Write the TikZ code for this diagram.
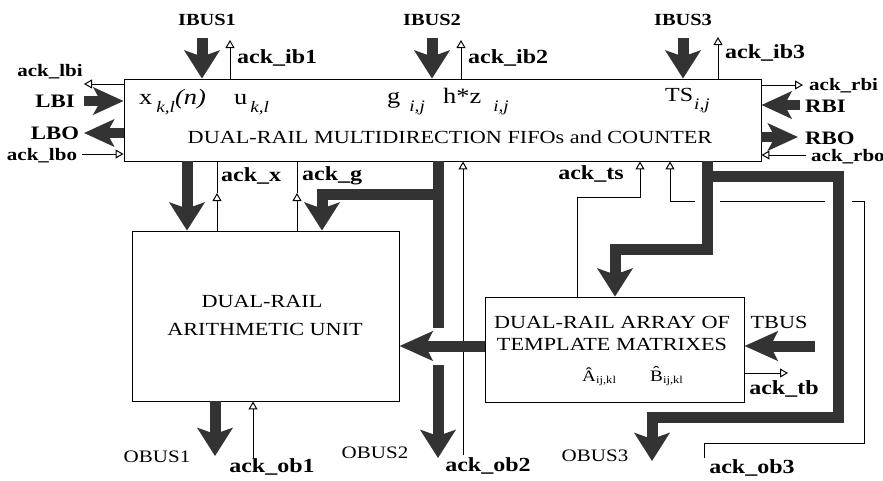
\documentclass[tikz,border=0pt]{standalone}
\usepackage{fontspec}
\setmainfont{Liberation Serif}[FakeStretch=1.2]
\usetikzlibrary{arrows.meta}
\definecolor{busc}{gray}{0.2}
\tikzset{
 box/.style={draw, line width=0.9pt, inner sep=0pt, rectangle},
 busline/.style={line width=11pt, draw=busc},
 bus/.style={busline, -{Stealth[width=35pt,length=28pt,inset=6pt]}},
 sbus/.style={line width=10pt, draw=busc, -{Stealth[width=27pt,length=30pt,inset=7pt]}},
 hbus/.style={line width=11pt, draw=busc, -{Stealth[width=29pt,length=33pt,inset=7pt]}},
 thinl/.style={line width=1pt},
 ack/.style={thinl, -{Triangle[open,width=9pt,length=8pt]}},
 busB/.style={font=\fontsize{17}{17}\selectfont\bfseries, inner sep=0pt},
 busR/.style={font=\fontsize{17.5}{17.5}\selectfont, inner sep=0pt},
 ackB/.style={font=\fontsize{20}{20}\selectfont\bfseries, inner sep=0pt},
 ackS/.style={font=\fontsize{17.5}{17.5}\selectfont\bfseries, inner sep=0pt},
 sideB/.style={font=\fontsize{19}{19}\selectfont\bfseries, inner sep=0pt},
 body/.style={font=\fontsize{18.5}{18.5}\selectfont, inner sep=0pt, anchor=base},
 var/.style={font=\fontsize{22}{22}\selectfont, inner sep=0pt, anchor=base west},
}
\newcommand{\sbx}[1]{\raisebox{-8pt}{\fontsize{16}{16}\selectfont\itshape #1}}
\begin{document}
\begin{tikzpicture}[x=1pt,y=-1pt]
\fill[white] (0,0) rectangle (883,480);
\useasboundingbox (0,0) rectangle (883,480);

% boxes
\node[box, minimum width=637pt, minimum height=82pt] (fifo) at (442.5,120) {};
\node[box, minimum width=267pt, minimum height=170pt] (arith) at (265.5,316) {};
\node[box, minimum width=259pt, minimum height=105pt] (templ) at (614.5,349.5) {};

% texts in boxes
\node[var] (vx) at (139,104) {x\hspace{4pt}\sbx{k,l}\itshape(n)};
\node[var] (vu) at (234,104) {u\hspace{3pt}\sbx{k,l}};
\node[var] (vg) at (387,103) {g\hspace{9pt}\sbx{i,j}};
\node[var] (vh) at (443,103) {h*z\hspace{12pt}\sbx{i,j}};
\node[font=\fontsize{20}{20}\selectfont, inner sep=0pt, anchor=base west] (vts) at (665,101) {TS\hspace{1pt}\sbx{i,j}};
\node[body] (tfifo) at (450,143) {DUAL-RAIL MULTIDIRECTION FIFOs and COUNTER};
\node[body] (ta1) at (262,307) {DUAL-RAIL};
\node[body] (ta2) at (265,335) {ARITHMETIC UNIT};
\node[body] (tt1) at (612,328) {DUAL-RAIL ARRAY OF};
\node[body] (tt2) at (612,350) {TEMPLATE MATRIXES};
\node[font=\fontsize{16}{16}\selectfont, inner sep=0pt, anchor=base west] (tA) at (582,381) {\^A\raisebox{-2pt}{\fontsize{10.5}{10.5}\selectfont ij,kl}};
\node[font=\fontsize{16}{16}\selectfont, inner sep=0pt, anchor=base west] (tB) at (650,381) {\^B\raisebox{-2pt}{\fontsize{10.5}{10.5}\selectfont ij,kl}};

% top inputs
\coordinate (ib1) at (202,38);
\coordinate (ib2) at (432,38);
\coordinate (ib3) at (683,38);
\draw[bus] (ib1) -- (ib1 |- fifo.north);
\draw[bus] (ib2) -- (ib2 |- fifo.north);
\draw[bus] (ib3) -- (ib3 |- fifo.north);
\node[busB] (lib1) at (207,20) {IBUS1};
\node[busB] (lib2) at (432,20) {IBUS2};
\node[busB] (lib3) at (683,20) {IBUS3};
\coordinate (aib1) at (230,40);
\coordinate (aib2) at (461,40);
\coordinate (aib3) at (718,37);
\draw[ack] (aib1 |- fifo.north) -- (aib1);
\draw[ack] (aib2 |- fifo.north) -- (aib2);
\draw[ack] (aib3 |- fifo.north) -- (aib3);
\node[ackB, anchor=west] (laib1) at (237,58) {ack\_ib1};
\node[ackB, anchor=west] (laib2) at (468,58) {ack\_ib2};
\node[ackB, anchor=west] (laib3) at (725,53) {ack\_ib3};

% left side
\coordinate (albi) at (84,84);
\coordinate (lbi) at (84,101);
\coordinate (lbo) at (84,133);
\coordinate (albo) at (82,154);
\draw[ack] (albi -| fifo.west) -- (albi);
\draw[sbus] (lbi) -- (lbi -| fifo.west);
\draw[sbus] (lbo -| fifo.west) -- (lbo);
\draw[ack] (albo) -- (albo -| fifo.west);
\node[ackS] (lalbi) at (50,72) {ack\_lbi};
\node[sideB] (llbi) at (55,101) {LBI};
\node[sideB] (llbo) at (55,133) {LBO};
\node[ackS] (lalbo) at (42,156) {ack\_lbo};

% right side
\coordinate (arbi) at (803,85);
\coordinate (rbi) at (800,105);
\coordinate (rbo) at (798,137);
\coordinate (arbo) at (806,155);
\draw[ack] (arbi -| fifo.east) -- (arbi);
\draw[sbus] (rbi) -- (rbi -| fifo.east);
\draw[sbus] (rbo -| fifo.east) -- (rbo);
\draw[ack] (arbo) -- (arbo -| fifo.east);
\node[ackS, anchor=west] (larbi) at (809,86) {ack\_rbi};
\node[sideB, anchor=west] (lrbi) at (805,106) {RBI};
\node[sideB, anchor=west] (lrbo) at (805,138) {RBO};
\node[ackS, anchor=west] (larbo) at (811,157) {ack\_rbo};

% fifo -> arithmetic
\coordinate (bx) at (187,0);
\draw[bus] (bx |- fifo.south) -- (bx |- arith.north);
\coordinate (ax) at (217,193);
\coordinate (ag) at (297,193);
\draw[ack] (ax |- arith.north) -- (ax);
\draw[thinl] (ax) -- (ax |- fifo.south);
\draw[ack] (ag |- arith.north) -- (ag);
\draw[thinl] (ag) -- (ag |- fifo.south);
\node[ackB, anchor=west] (lax) at (221,176) {ack\_x};
\node[ackB, anchor=west] (lag) at (302,176) {ack\_g};

% g bus and OBUS2
\coordinate (gv) at (438,328);
\coordinate (gh) at (438,194);
\coordinate (gd) at (322,0);
\draw[busline] (gv |- fifo.south) -- (gv);
\draw[bus] (gh) -| (gd |- arith.north);
\coordinate (ob2a) at (438,365);
\coordinate (ob2) at (438,458);
\draw[bus] (ob2a) -- (ob2);
\node[busR] (lob2) at (375,453) {OBUS2};
\coordinate (aob2) at (463,455);
\draw[ack] (aob2) -- (aob2 |- fifo.south);
\node[ackB] (laob2) at (488,466) {ack\_ob2};

% template -> arithmetic
\coordinate (tarow) at (0,346);
\draw[hbus] (tarow -| templ.west) -- (tarow -| arith.east);

% OBUS1
\coordinate (ob1) at (215,456);
\draw[bus] (ob1 |- arith.south) -- (ob1);
\node[busR] (lob1) at (157,457) {OBUS1};
\coordinate (aob1) at (253,458);
\draw[ack] (aob1) -- (aob1 |- arith.south);
\node[ackB] (laob1) at (272,467) {ack\_ob1};

% fifo -> template
\coordinate (tb1) at (707,0);
\coordinate (tb2) at (615,249);
\draw[bus] (tb1 |- fifo.south) |- (tb2) -- (tb2 |- templ.north);

% OBUS3
\coordinate (o3a) at (707,176);
\coordinate (o3b) at (838,417);
\coordinate (o3c) at (652,461);
\draw[bus] (o3a) -| (o3b) -| (o3c);
\node[busR] (lob3) at (595,456) {OBUS3};

% ack_ts
\coordinate (ats1) at (577,0);
\coordinate (ats2) at (640,197);
\draw[ack] (ats1 |- templ.north) |- (ats2) -- (ats2 |- fifo.south);
\node[ackB] (lats) at (591,174) {ack\_ts};

% ack_ob3
\coordinate (aob3) at (704.5,458);
\coordinate (o3c1) at (704.5,443.5);
\coordinate (o3c2) at (864.5,443.5);
\coordinate (o3c3) at (864.5,201.5);
\coordinate (o3r2) at (852,201.5);
\coordinate (o3m1) at (825,201.5);
\coordinate (o3m2) at (720,201.5);
\coordinate (o3l) at (695,201.5);
\coordinate (o3t) at (670,0);
\draw[thinl] (aob3) -- (o3c1) -- (o3c2) -- (o3c3) -- (o3r2);
\draw[thinl] (o3m1) -- (o3m2);
\draw[ack] (o3l) -| (o3t |- fifo.south);
\node[ackB] (laob3) at (752,468) {ack\_ob3};

% TBUS
\coordinate (tbus) at (815,346);
\draw[hbus] (tbus) -- (tbus -| templ.east);
\node[font=\fontsize{18.5}{18.5}\selectfont, inner sep=0pt] (ltbus) at (779,322) {TBUS};
\coordinate (atb) at (788,373);
\draw[ack] (atb -| templ.east) -- (atb);
\node[ackB] (latb) at (784,389) {ack\_tb};
\end{tikzpicture}
\end{document}
